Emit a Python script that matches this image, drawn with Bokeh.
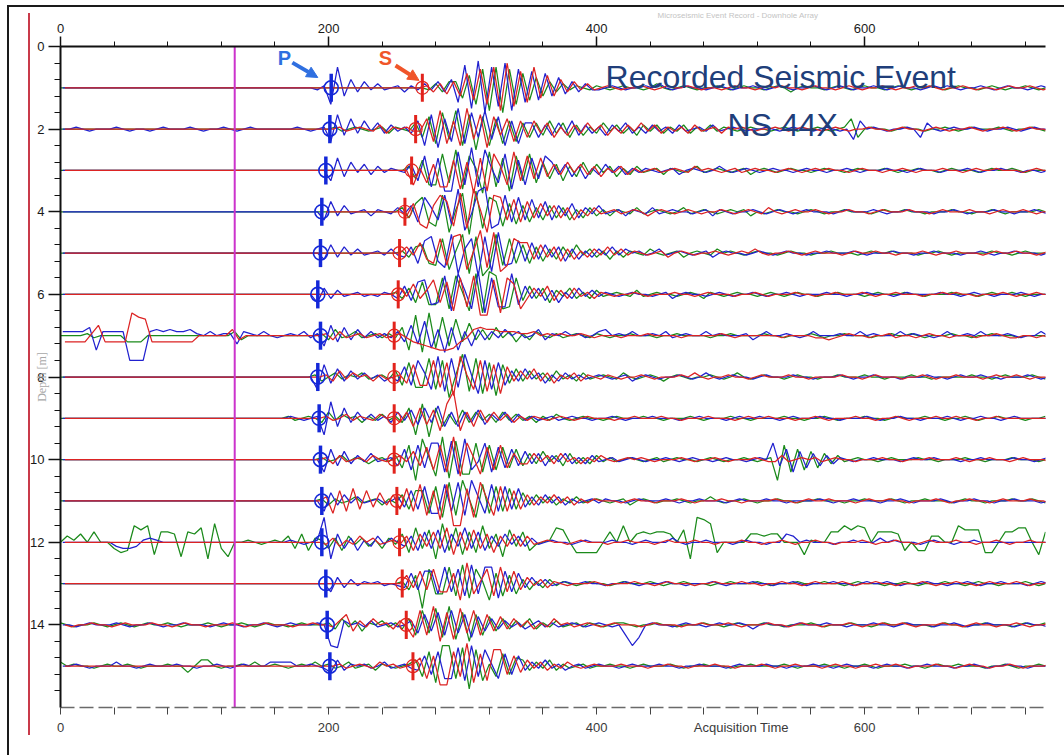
import re
import numpy as np
from bokeh.plotting import figure
from bokeh.models import Range1d, FixedTicker, LinearAxis, Label, Arrow, NormalHead
from bokeh.embed import file_html
from bokeh.resources import INLINE

# ---------------------------------------------------------------------------
# Recording: 15 three-component geophones, one sample every DT time units.
# Each component is stored as a compact amplitude code:
#   '.' = 0, 'a'..'z' = +1..+26, 'A'..'Z' = -1..-26, '_' = no data,
#   a trailing number repeats the preceding symbol.
# ---------------------------------------------------------------------------
DT = 5.0
N_SAMPLES = 148
LEVEL = 0.05            # trace-spacing units per amplitude step

DEPTHS = list(range(1, 16))
P_PICK = [202, 201, 198, 195, 194, 192, 194, 192, 193, 194, 195, 195, 198, 199, 201]
S_PICK = [270, 265, 262, 257, 253, 252, 249, 249, 249, 249, 251, 253, 255, 258, 263]
MARKER_TIME = 130

# per-channel digitiser lag (time units) of the green / blue / red components
CHANNEL_LAG = [0.0, 1.7, 3.3]

GREEN = [
    ".55" "AbBc" "cEfHiKjLiHgFeDcB" "bAa.A" "a.A.a..A.b.A.a.A..a.A.a..A.a.B.a..A.a.A.a..A.a.A..a.A.a..A.a.A..a.A",
    ".40" ".aA.a.A.aBa.A" "cDfGhEiHgJfHeGdFc" "DcCdBcDbCaBcAbBaCbAbBaAbBaAbAa" ".A.a..A.a.A..a.A.a" "eD" ".a..A.a..A..a.A.a...a.A..a.A",
    ".52" "bDeGGhFjIgaKiHfJgEhFd" "DcEbCdBcAbCaBb" "A.aBa.A.bA.a.A.aB.a.A.a..A" ".a..A.a...a.A..a..A.a...A.a..a.A..." "a..A.a..A...a.A..a..A.a.A..a",
    ".51" "bCdgEGhJaiKjHg" "eGdFcEbDcCbDaCbB" "aBa.AbA.a.A.bA.a.A.a.aB.A.a..A.a" ".A..a...A.a..a..A...a..A..a.A...." "a..A.a...A..a.A..a...A.a",
    ".51" "aBcdEFgHaiJhKGiFgE" "dEcDbCcBdAbBaCaB" "a.Ab.A.aB.a.Ab.a.A.a..A.a." ".A..a...A.a..a...A..a.A...." ".a..A.a...a..A.a..A...a.A..a..A.a..",
    ".50" "aBcDfEEhGiaHjIkiGFh" "CdBcDbAcBaBb" "A.a.AbA.a..A.a.Ba.A.a..A.a.A.a" "..A..a...A.a...a..A...a..." "A.a..a.A...a..A.a..A...a.A..a..A..a",
    ".4" "aA" ".4" "C3" ".13" "bB" ".11" "aBcA.bA.aAa" "AdGjHkFiEhCfB" "cBdAbCaBb.AaA.a.Aa" ".A..a...A..a....A..a...." "a..A...a.A..a...A..a..a.A...a..A..a...A.",
    ".38" "aB.bAa.bA.aA" "cDgEEiFhJakGiHgIf" "CdBcAbBcAaBbA." "a.Ab.A.a.B.a.A..a.A.b.A.a..A.a.." "A..a...a..A...a..A...." ".a..A.a...a.A..a..A...a.A..a...",
    ".34" "aA.a." "BcAb.aBaAbA" "aBeHgIeDb" "CdBcAbBcAbAa" "BaAb.A" ".a..A.a...a..A...a.A...a..A...." "a..A..a.A...a..A.a...a..A..a.A..a...A..a.A",
    ".39" "aA.bAa.B.aA" "bDgJjaHkIiGGhFgEfDe" "CcBdAbCcBaBbAaA." "a.A.aA.a..A.a.A..a.A." "aJgFeEdDcBb" "A.a..A.a...a..A...a..A...a..." "A..a.A..a...",
    ".39" "aBaA.bA.aBa" "AcDeeFgHiGjaHhFgEfD" "dBcAbBaAbA.a" ".A.aB.a.A..a.A..b.A..a.A..a..A..a...A..a..." "a.A..a...A.a..A...a..a.A..",
    ".cad.e..CEDhfhFeedGedgHiCG." ".a.A.a." "cCdDb" "aCbDcAbBaCbA" "dEgCfHiDgFeEhCdGfBeD"
    "A.agf.EEEE.e.h.dedeed.fHlkiE....ddcdd...Fa..eehfhg.eeedD.DDcc..hfffEE.eegg.Fe",
    ".51" "aCdLgEEhFiGgaHeFdE" "bCaBbAa." "A.a..A.a...a.A..a...A..a...a.A...a..." "a..A.a...A..a.A...a..A.a..A...a.A..a...A..a.A...a..A.a",
    "a.A..a.A.a" ".A.a..a.A." "..a.A..a.A" ".a..A.a..." "aBcAbCa.bAaB" "cEgDhFiGfHeEdCc" "BbAcBaAbA.aAa.A.a" "a.A." ".a..A...a..A.a...a..A..." "a.A...a..A.a..a...A.a..A..a...A.a..a.A...",
    "b.a..A.a.." "a.A...a..C" ".cc.A..a.b" "..a.A.a.b." "aA.bA.aBa.A.a" "cEgHjjFiKhGaEfDd" "cBbAcBaA.aA." ".a..A.a...a.A..a...A..a....a.A...a.." "A..a.A...a..A.a..a...A..a.A..a...a.A",
]

BLUE = [
    ".38" "Aa" "HjDdBcAbA.aBaA" "bAcBd" "GkJmLjIlKiGhFgDe" "CcBbA" "A.a.A..a.b.A.a..A.a.A..a.A.a.A..a.A.a.A..a.A.a..A.a.a.A..a.A.a..A.a",
    ".2a.A.3a.A.2A.a.3a.A.2a.A.a.3.3a.A.a" "FgCeBdAcBbAaB" "dHgIeFjGhDiEfHdGc" "cDbCcBdCbBaCbAcBaBbAaBbA.aAbA." "a.A..a.A.a..A.a.A." "Ed" ".a.A..a." "Dc" ".A.a..a.A..a.A.a..",
    ".40" "EfCdAcBbAa.A" "cEgHfJJiGkHjaFhIeGfDg" "dBcCbDaBcAbBaA" "a.A.aB.a.A.b.A.a.A.a..A.a." ".A..a.A...a..A.a..A...a.A..a..A.." "A.a..a...A..a.A..a..A..",
    ".39" "DeBcA.aBa.Ab" "AcEgbDhFkIAjlH" "FhEgDfCeDcBdCbAc" "A.aBa.AbA.a..A.aBa.A..a.A.a.A.a." "..A.a...a.A..a...A..a.A...a..A.." "a.A..a..A.a...",
    ".39" "CdBcAbA.aAbA" "BcEfhDGiJbgKhIjFEf" "DeCdBcDbCaBbAcAb" ".aA.bA.a.A.aB.a..A.a.A.a.." "A..a...a.A...a..A..a...A.." "a.A..a...A.a..a.A...a..A..a.A..",
    ".38" "DcBbA.aA.Aa." "BdCfgEDiHjbGkIhFFjE" "dBcCbDaBcAbA" "a.A.a..A.aB.a..A.a.A..a.A..a.A...a..A..a...A.a...." "a..A.a..A...a.A..a..",
    "b4" "dGb" "b3" "L3" "bcbcbbc" "a.b.a" "aDb" "a.b.A.a.bAa" "EeCdBcAbAaA" "bCeDgFcHdGbEc" "BbAc.bA.cBa.b.aA.b" "c.a.b..a.bA.a..b.a...aB.b..a.A.b...a..b.a..." "b.a..A.b..a.b...a.A..b..a.b",
    ".38" "FfCdBcAbAaB." "BeDhbFjGiEkaHhFgD" "cBdAbCaBbAaA.a" ".A.aB.a.A..a.A.b.A.a..A.a...a..A...a.A..a...A...a.." "A.a..a..A...a.A..",
    ".34" "a.A.a" "HhDeBcAbAaB" "cAdCeBfDc" "DcBdCbAcBbAa" "A.aA.a" "..A..a.A...a...A..a..." "A.a..a..A.a...a..A...a.A..a..A...a.A..a..A.a..",
    ".39" "FeCdBbAcA.a" "CeEgDhhFiGjEAhFfDeC" "dBcCbAcBaBbA.aA." "a.A..a.A.a..A.a..A.a." "hCeFdDcCbBa" ".A..a...A.a..a...A..a...." "a..A.a..A...a.",
    ".39" "EdBcAbA.aA." "bCeDgFFhEiGjbFhEgDf" "CbBcAbBaA.aA" "a..A.a...a.A..a...A.a...a..A...." "a.A..a...A..a.A...a.A..a..A..a...A.a..A..a",
    ".8" "BCCB" "aba" ".12" ".7" "a.A.a" "lHdCbDaBcAb." "BcDeCfEdBgCeDcBdAcBb" "A.a..A.a...a..A.a...b.A..a...A.a..A..dc.a...A..a...b.a...A.a..A..a...",
    ".40" "DcBbAa.aA.A" "BeCffEhDgFiEhhGfDe" "BcAbA.a." ".a..A..a.A...a..A...a.A...a..A.." "a.A...a..A.a..a.A...a..A..a.A..a...A.a..A...a",
    "..A.a...a." "A..a.A..a." "..A.a..A.." "a.A.a...a." "JKb.aAbA.aA." "bDeCfEgDeFdCcBb" "AaB.bAaA.a.A.a.A." "EJF." "a..A.a..A.a..a." "B" ".a..A.a...a..A..." "a..A.a...A..a.A..a...A.a..A...a.A..a",
    "..a.A...b." ".A.a...a.." "A..a.A.a.." ".bbbb..a.A" "CcBa.aA.bA.aA" "BeDgFFiGjEhaFfDe" "BbAcAaB.aA.a" "..A.a...a..A..a...A.a...a..A..." "a..A.a...A.a..A..a...A..a.A..a..A",
]

RED = [
    ".54" "aBbCc" "DgFiHjKlIhGjEfDd" "BcAbA" ".a.A..a.A.a..a.A..A.a..A.a.a..A.a..A.a.A..a.A..a.a.A..a.A..A.a..a.A..",
    ".40" ".aA.a.AbBa.aA" "AeFiGdHjEgIfCeFdD" "dBcDaCbBcAbCaBbAcAbBaAaBbA.aBa" ".a.A..a.A.a..A.a.A..a..A.a..A.a.A..a.A..a.A.a..A.a",
    ".52" "GaFcHHeIdKfJhbGiEgDfC" "cBdAcBbCaAbBaA" ".aA.a.Ab.a.A.aA.a..A.a.A.a" ".a..A.a..A..a.A...a..A.a..a...A.a.." "A.a..a.A..A.a...a.A..",
    "_39" ".12" "BdFHcheGiHkaJh" "gDfEeCdBcCbDaBbA" ".aA.a.B.a.A.a.A..a.A.a.Ab.A.a..a" ".A..a..A.a...a..A.a..." "a..A.a..a.A...a..A.a..a",
    ".51" "cAeCEgFhiHakGjIFge" "eCdBcDbCaBbAcAbA" "a.A.aB.a.A..a.A.a.b.A..a.A" ".a...A.a..a..A...a.A..a..." "A.a..a..A.a...A..a.a..A..a.A..a",
    ".50" "cAeBbgDfHhFiJJgIheG" "BcAdCbBcAaBa" ".A..a.A...a..A.a...A..a.A...a..A..a..." "a.A..a...A..a.a..A...a.A..a..A.a...a..A.a..A.",
    "C4" "aeC" "C3" "kih" "C7" ".5" "cB." ".11" "aBbA.aA.aA." "aACDEFGGFCAcd" "ccbbbaab.a.a..a.A." ".2A.3a.4A.5a.A.6A.4AAB" "A.a..A..aA..A.a..A...A..a.AA..A.AB",
    ".38" ".aBcAb.aBaA." "aCfDDhEgIjaFhGfHe" "BcAdBbCaAbBa.A" "a.A..a.A...a.b.A..a..A.a...a..A..." ".a..A.a...A..a.A..a...A.a..a.A...a..A",
    ".34" "....." "aA.bAa.Ab.a" "BcDeCdFgm" "FcDdBcAbBaAa" ".A.a.A" ".a...A..a...a..A...a..." "A.a..a...A..a.A...a..A..a.A...a..a..A..a.",
    ".39" "aBbA.aAb.A." "bAdCfEgFkHhaGfEgDcB" "BcAbBcAaBaAb.A.a" ".a.A...a.A..a.A...a.A" "AbA.a.aA.a." ".A...a..A...a..." "a.A..a..A.a...A..a.a..A..a.A..",
    ".39" "bFeEfDeCdBc" "DfEhGeIhLLfHiaGgEeD" "cBbAcAbBaAa." "..A.a..A...a.A...a..A....a.." "A.a..a...A.a..a..A...a.A..a..A.a...a..A.a..a..A.a..A..a",
    ".39" "AbBaAc.bA.aA" "cDdBeCgFeDfCdEcBdBcA" ".a..A.a...A..a...A.a...a..A...a..A.." "a.A..a..A...a.A..a..A.a...a..A..a.A..a..",
    ".51" "dBfCgDDeHjEagFhDfC" "cAbBa.A." "..a.A...a..A.a...A..a...a..A.." "a..A.a...a.A..a..A...a.A..a..A.a...a.A..a..A.a...A..a.",
    ".A..a..A.a" "...a..A.a." ".A...a.A.." "a...A..a.." "AbeCbAc.aBbA" "FgEiHfGhDgEeCdB" "cAbBaAc.aA.a.A.a." "..A.a...A..a...a.A..." "a..A.a..A...a.A..a..a.A...a..A.a..A..a.A..a",
    ".40" ".aA.a.Ab.aA.a" "dFeIIgEkHfGhhDeC" "cAbBaAb.A.a." "..a...A..a..A...a..A..." "a.A..a...A.a..A..a..a.A...a..A.a..A..a.A...a..a.A",
]

X_MAJOR = [0, 200, 400, 600]
X_MINOR = [40, 80, 120, 160, 240, 280, 320, 360, 440, 480, 520, 560, 640, 680, 720]
Y_MAJOR = [0, 2, 4, 6, 8, 10, 12, 14]
Y_MINOR = [round(0.4 * k, 1) for k in range(1, 40) if k % 5]
TIME_TITLE_AT = 508     # where the time-axis caption sits along the bottom axis


def decode(code):
    vals = []
    for ch, rep in re.findall(r"([A-Za-z._])(\d*)", code):
        n = int(rep) if rep else 1
        if ch == ".":
            v = 0.0
        elif ch == "_":
            v = float("nan")
        elif ch.islower():
            v = float(ord(ch) - 96)
        else:
            v = -float(ord(ch) - 64)
        vals.extend([v] * n)
    vals = (vals + [0.0] * N_SAMPLES)[:N_SAMPLES]
    return np.array(vals)


times = np.arange(N_SAMPLES) * DT

p = figure(width=1064, height=755,
           x_range=Range1d(0, 735), y_range=Range1d(16, 0),
           x_axis_location="above",
           title="Microseismic Event Record - Downhole Array",
           output_backend="svg", toolbar_location=None,
           min_border_left=60, min_border_right=19,
           min_border_top=46, min_border_bottom=48,
           background_fill_color="white", border_fill_color=None,
           outline_line_color=None)
p.xgrid.grid_line_color = None
p.ygrid.grid_line_color = None
p.title.align = "left"
p.title.offset = 597
p.title.standoff = 2
p.title.text_font = "Liberation Sans"
p.title.text_font_size = "8px"
p.title.text_font_style = "normal"
p.title.text_color = "#c4c4c4"

# page frame and the red margin rule
p.styles = {
    "background-color": "white",
    "background-image": ("linear-gradient(#1a1a1a,#1a1a1a), "
                         "linear-gradient(#1a1a1a,#1a1a1a), "
                         "linear-gradient(#c93a4a,#c93a4a)"),
    "background-size": "2px 750px, 1060px 2px, 2px 722px",
    "background-position": "7px 5px, 7px 5px, 28px 13px",
    "background-repeat": "no-repeat",
}

# waveforms: green, blue, red components per geophone
for codes, color, lag in zip((GREEN, BLUE, RED), ("#1b8a1b", "#2121cf", "#dc2323"), CHANNEL_LAG):
    xs = [times + lag for _ in DEPTHS]
    ys = [d - decode(c) * LEVEL for d, c in zip(DEPTHS, codes)]
    p.multi_line(xs, ys, line_color=color, line_width=1.25)

# reference time marker
p.segment(x0=[MARKER_TIME], y0=[0], x1=[MARKER_TIME], y1=[16],
          line_color="#cc33cc", line_width=2)

# P picks (blue) and S picks (red)
p.segment(x0=P_PICK, y0=[d - 0.34 for d in DEPTHS], x1=P_PICK, y1=[d + 0.34 for d in DEPTHS],
          line_color="#1428d8", line_width=3.5)
p.scatter(P_PICK, DEPTHS, marker="circle", size=14, fill_color=None,
          line_color="#1428d8", line_width=1.6)
p.segment(x0=S_PICK, y0=[d - 0.34 for d in DEPTHS], x1=S_PICK, y1=[d + 0.34 for d in DEPTHS],
          line_color="#e2231c", line_width=3)
p.scatter(S_PICK, DEPTHS, marker="circle", size=13, fill_color=None,
          line_color="#e2231c", line_width=1.2)

# axes
top = p.above[0]
top.ticker = FixedTicker(ticks=X_MAJOR, minor_ticks=X_MINOR)
left = p.left[0]
left.ticker = FixedTicker(ticks=Y_MAJOR, minor_ticks=Y_MINOR)
for ax, major, minor in ((top, 10, 5), (left, 12, 6)):
    ax.axis_line_width = 2
    ax.axis_line_color = "#111111"
    ax.major_tick_out = major
    ax.major_tick_in = 0
    ax.minor_tick_out = minor
    ax.minor_tick_in = 0
    ax.major_tick_line_color = "#111111"
    ax.minor_tick_line_color = "#111111"
    ax.major_tick_line_width = 1.5
    ax.major_label_text_font = "Liberation Sans"
    ax.major_label_text_font_size = "13px"
    ax.major_label_text_color = "#1a1a1a"
    ax.major_label_standoff = 4

left.axis_label = "Depth [m]"
left.axis_label_standoff = -22
left.axis_label_text_font = "Liberation Serif"
left.axis_label_text_font_size = "12px"
left.axis_label_text_font_style = "normal"
left.axis_label_text_color = "#a8a8a8"

# bottom time axis: tick marks every 40, numbers every 200, caption beside them
bottom = LinearAxis(ticker=FixedTicker(ticks=X_MAJOR + [TIME_TITLE_AT],
                                       minor_ticks=sorted(X_MAJOR + X_MINOR)),
                    major_label_overrides={TIME_TITLE_AT: "Acquisition Time"},
                    axis_line_color="#6a6a6a", axis_line_dash="14 5", axis_line_width=1.3,
                    major_tick_line_color=None, major_tick_out=8, major_tick_in=0,
                    minor_tick_out=7, minor_tick_in=0, minor_tick_line_color="#444444",
                    major_label_text_font="Liberation Sans", major_label_text_font_size="13px",
                    major_label_text_color="#3a3a3a", major_label_standoff=4)
p.add_layout(bottom, "below")

# annotations
p.add_layout(Label(x=406.7, y=0.75, text="Recorded Seismic Event",
                   text_font="Liberation Sans", text_font_size="32px",
                   text_color="#203e7a", text_align="left", text_baseline="alphabetic"))
p.add_layout(Label(x=497.8, y=1.91, text="NS 44X",
                   text_font="Liberation Sans", text_font_size="32px",
                   text_color="#203e7a", text_align="left", text_baseline="alphabetic"))
p.add_layout(Label(x=167, y=0.28, text="P", text_font="Liberation Sans",
                   text_font_style="bold", text_font_size="20px", text_color="#2f6fe0",
                   text_align="center", text_baseline="middle"))
p.add_layout(Label(x=242.5, y=0.28, text="S", text_font="Liberation Sans",
                   text_font_style="bold", text_font_size="20px", text_color="#f0552a",
                   text_align="center", text_baseline="middle"))
p.add_layout(Arrow(end=NormalHead(size=11, fill_color="#2f6fe0", line_color="#2f6fe0"),
                   x_start=173, y_start=0.39, x_end=192, y_end=0.75,
                   line_color="#2f6fe0", line_width=4))
p.add_layout(Arrow(end=NormalHead(size=11, fill_color="#f0552a", line_color="#f0552a"),
                   x_start=250, y_start=0.46, x_end=267.5, y_end=0.82,
                   line_color="#f0552a", line_width=4))

open("out.html", "w").write(file_html(p, INLINE))
